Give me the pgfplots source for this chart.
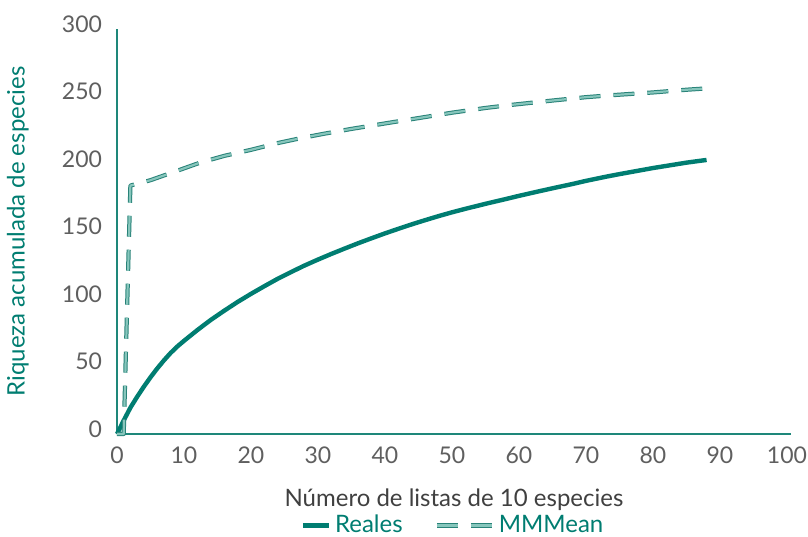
\documentclass[border=0pt]{standalone}
\usepackage{fontspec}
\setmainfont{Lato}
\usepackage{pgfplots}
\pgfplotsset{compat=1.18}
\pgfplotsset{legline/.style={legend image code/.code={\draw[##1] (0pt,0pt) -- (#1,0pt);}}}
\begin{document}
\begin{tikzpicture}
\definecolor{realTeal}{RGB}{0,125,113}
\definecolor{axTeal}{RGB}{30,135,122}
\definecolor{mmOut}{RGB}{40,130,120}
\definecolor{mmIn}{RGB}{135,198,188}
\definecolor{tickGrey}{RGB}{95,95,95}
\definecolor{labGrey}{RGB}{64,64,64}
\begin{axis}[
    name=ax,
    scale only axis,
    width=337pt,
    height=202.5pt,
    xmin=0, xmax=100.6,
    ymin=0, ymax=300,
    xtick={0,10,...,100},
    ytick={0,50,...,300},
    axis lines=left,
    axis line style={-, draw=axTeal, line width=0.75pt},
    major tick length=0pt,
    tick label style={font=\fontsize{11.5}{13}\selectfont, text=tickGrey},
    /pgf/number format/assume math mode=true,
    yticklabel style={xshift=-4pt, yshift=2.5pt},
    xticklabel style={yshift=-3pt},
    xlabel={Número de listas de 10 especies},
    ylabel={Riqueza acumulada de especies},
    every axis x label/.style={at={(axis description cs:0.5,-0.163)}, anchor=center,
        font=\fontsize{12}{14}\selectfont, text=labGrey},
    every axis y label/.style={at={(axis description cs:-0.147,0.5)}, anchor=center, rotate=90,
        font=\fontsize{12}{14}\selectfont, text=realTeal},
    legend columns=2,
    legend style={draw=none, fill=none, at={(axis description cs:0.5,-0.226)}, anchor=center,
        inner sep=1pt, font=\fontsize{12}{14}\selectfont, text=realTeal,
        /tikz/every even column/.append style={column sep=14pt}},
    clip=false,
]
\addplot[draw=realTeal, line width=2.2pt, line join=round, legline=13pt] coordinates {
(0,0) (1,10) (2,19.5) (3,27.5) (4,35) (5,42) (6,48.5) (7,54.5) (8,60) (9,64.8) (10,69)
(12,77) (14,84.5) (16,91.3) (18,97.8) (20,103.8) (22,109.5) (24,115) (26,120) (28,124.8)
(30,129.2) (32,133.4) (34,137.4) (36,141.3) (38,145) (40,148.6) (42,152) (44,155.3)
(46,158.4) (48,161.4) (50,164.2) (52,166.8) (55,170.5) (58,174) (60,176.4)
(63,179.8) (65,182) (68,185.2) (70,187.5) (73,190.6) (75,192.5) (78,195.2) (80,197)
(83,199.4) (85,201) (88,203)
};
\addlegendentry{Reales}
\addplot[draw=mmOut, line width=0.5pt, double=mmIn, double distance=1.1pt,
    dash pattern=on 10.5pt off 6.5pt, line join=round, legline=28pt] coordinates {
(0,0) (1,0) (2,184) (5,188) (9,195) (12.4,201) (16,206) (20,210.5) (24,215.5)
(27.3,219) (31,222.5) (35,226) (41.2,231) (45,234) (50,238) (55,241.5)
(58.7,243.7) (65,247) (70,249.5) (74,251) (80,253) (85,255) (88,256)
};
\addlegendentry{MMMean}
\coordinate (ll) at (rel axis cs:0,0);
\coordinate (ur) at (rel axis cs:1,1);
\end{axis}
\pgfresetboundingbox
\useasboundingbox ([shift={(-58.5pt,-51.5pt)}]ll) rectangle ([shift={(8.5pt,14.5pt)}]ur);
\end{tikzpicture}
\end{document}
